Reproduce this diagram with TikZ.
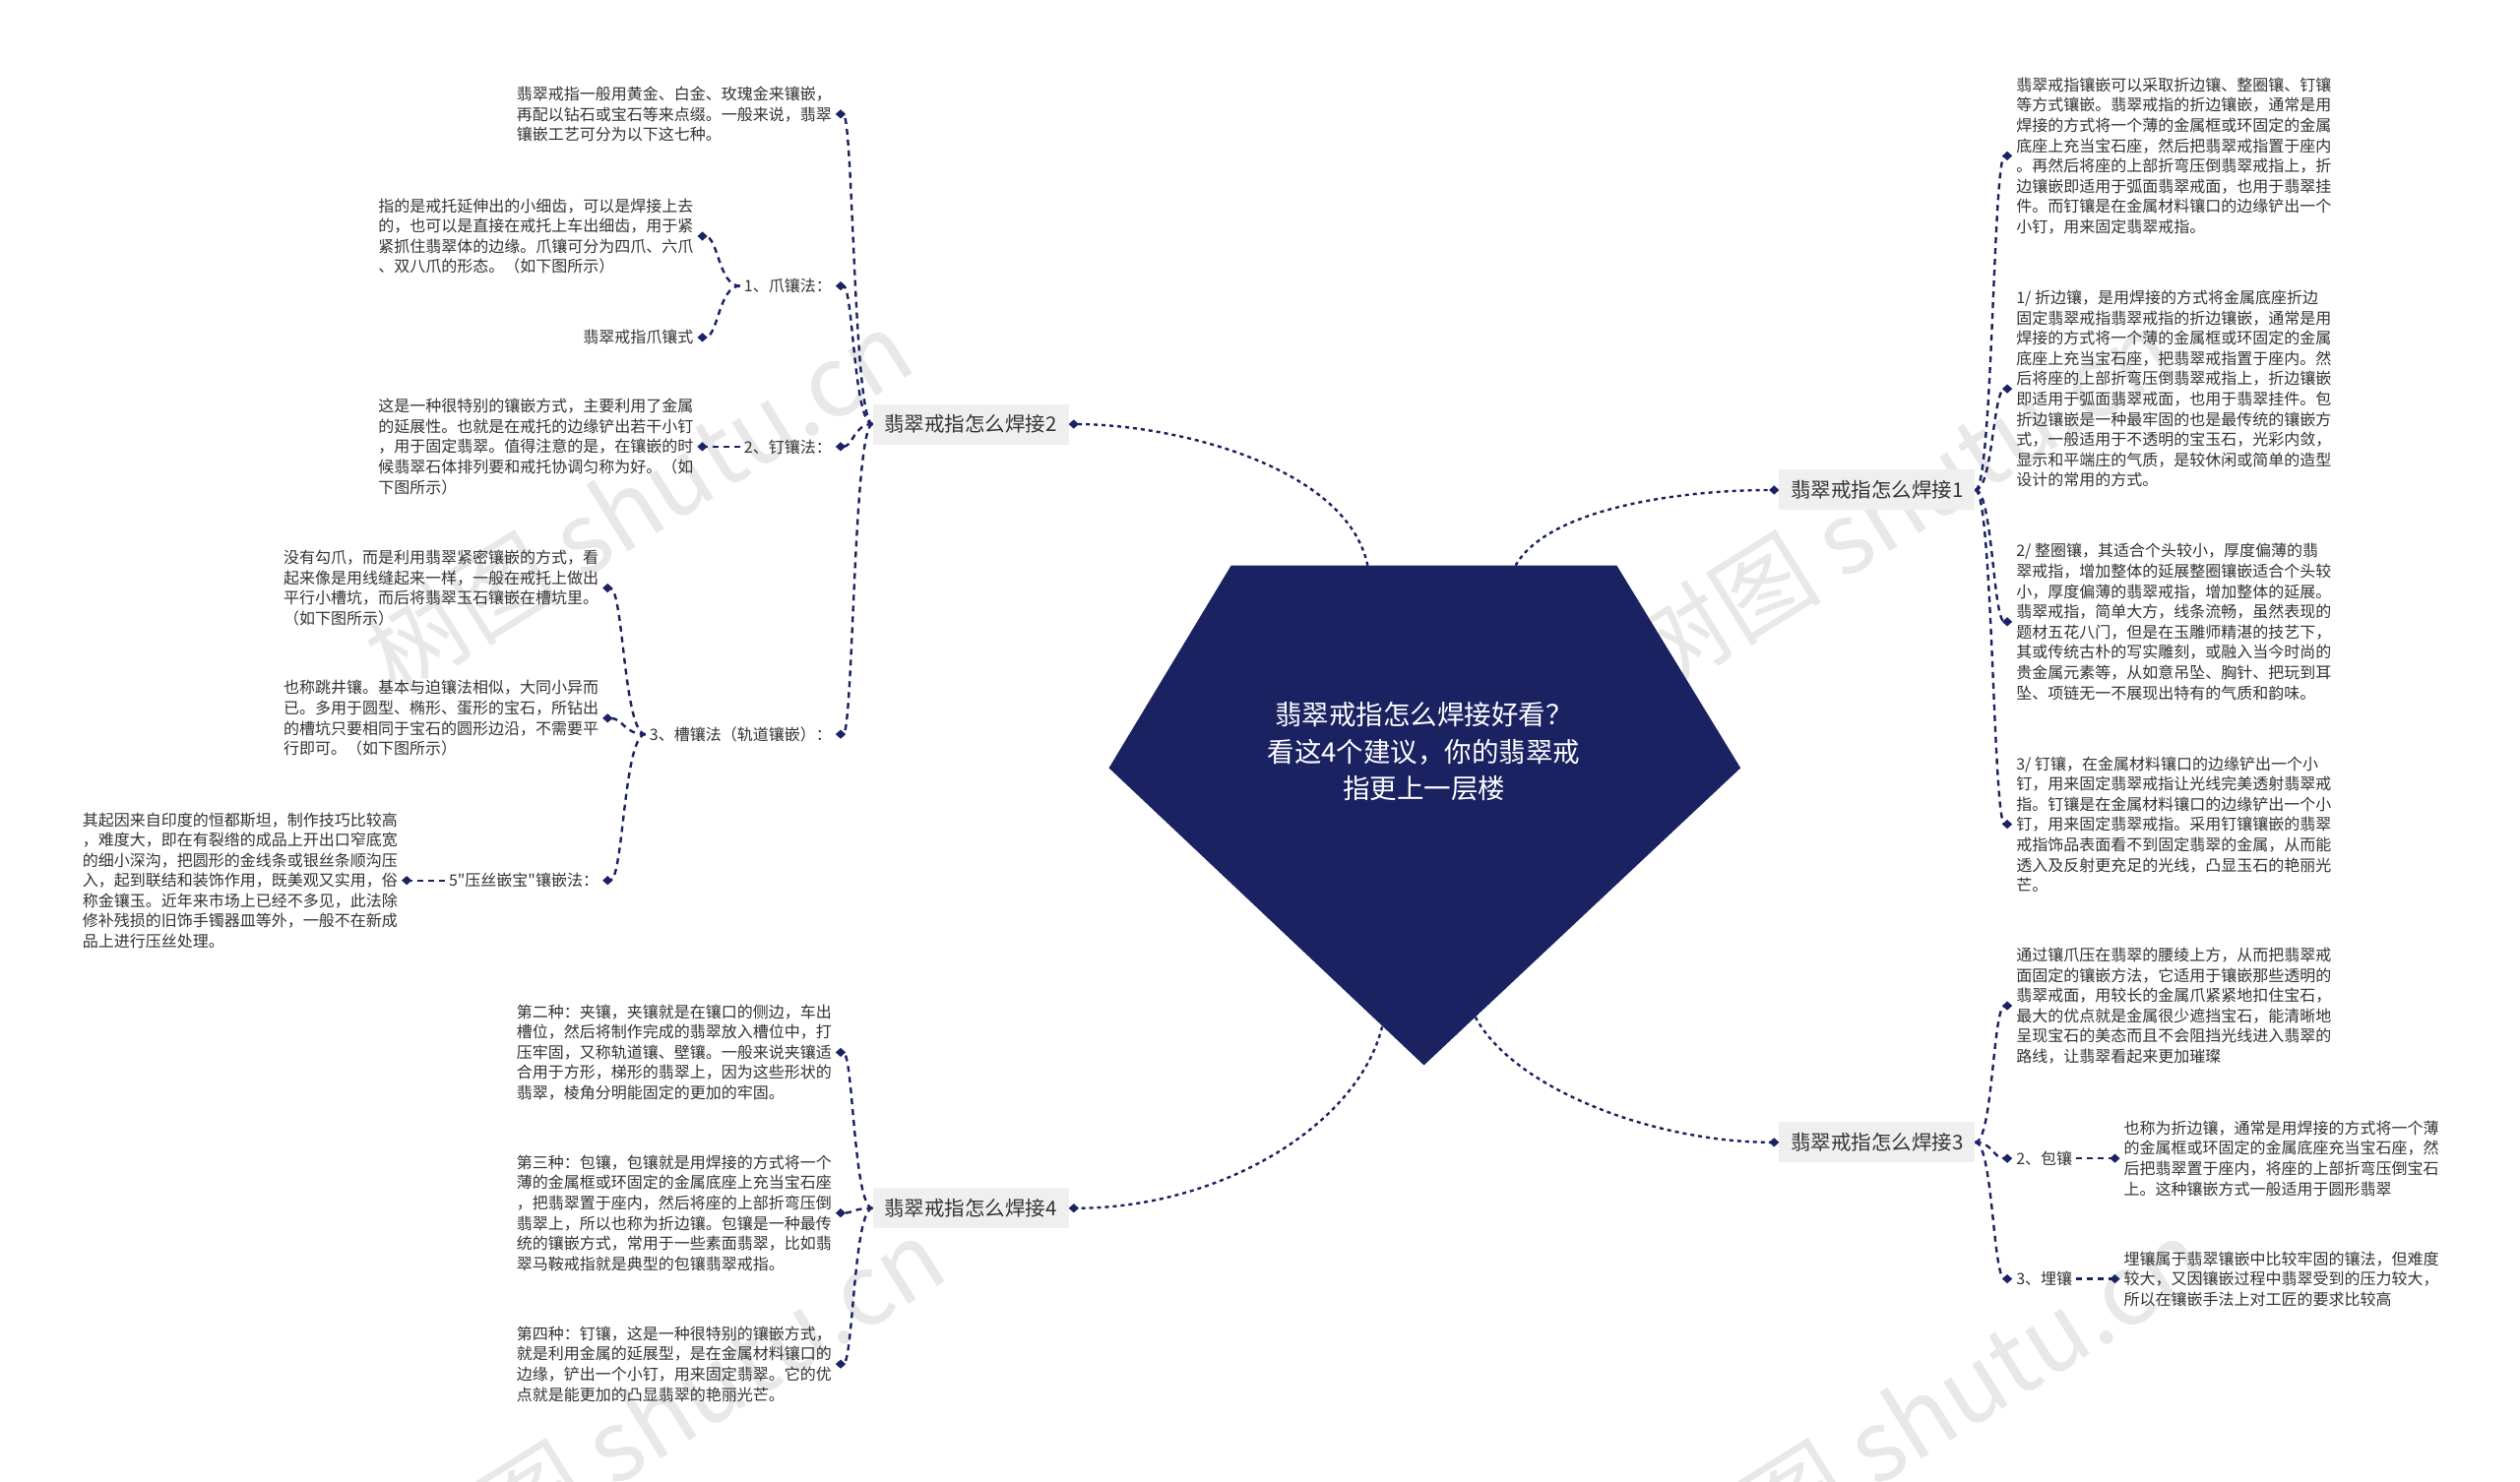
\documentclass[tikz,border=0pt]{standalone}
\usepackage{fontspec}
\setmainfont{Noto Sans CJK SC}
\newfontfamily\zhfont{Noto Sans CJK SC}
\usetikzlibrary{arrows.meta}
\definecolor{navy}{HTML}{1B2262}
\definecolor{txtc}{HTML}{333333}
\definecolor{bfill}{HTML}{EFEFEF}
\definecolor{wmc}{HTML}{E8E8E8}
\newcommand\fBody{\zhfont\fontsize{16pt}{20.6pt}\selectfont}
\newcommand\fBranch{\zhfont\fontsize{20.5pt}{24pt}\selectfont}
\newcommand\fCenter{\zhfont\fontsize{27.5pt}{37.5pt}\selectfont}
\newcommand\fMark{\zhfont\fontsize{100pt}{110pt}\selectfont}
\begin{document}
\begin{tikzpicture}[x=1.6327pt,y=-1.6327pt,
 txtnode/.style={font=\fBody, text=txtc, align=left, inner xsep=4pt, inner ysep=0pt},
 lab/.style={font=\fBody, text=txtc, inner xsep=4pt, inner ysep=2pt},
 brnode/.style={font=\fBranch, text=txtc, fill=bfill, minimum width=199pt, minimum height=41pt, inner sep=0pt},
 conn/.style={draw=navy, line width=2.4pt, dash pattern=on 6pt off 5pt, -{Diamond[length=10pt,width=9pt,line width=0.1pt]}},
 mainconn/.style={conn, dash pattern=on 4pt off 4pt},
 wmark/.style={font=\fMark, text=wmc, rotate=32}]
\fill[white] (0,0) rectangle (1568,922);
\useasboundingbox (0,0) rectangle (1568,922);
% watermarks
\node[wmark] (wm1) at (397,312) {树图 shutu.cn};
\node[wmark] (wm2) at (1182,312) {树图 shutu.cn};
\node[wmark] (wm3) at (417,877) {树图 shutu.cn};
\node[wmark] (wm4) at (1202,877) {树图 shutu.cn};
% center pentagon
\fill[navy] (766,352) -- (1006,352) -- (1083,478) -- (886,663) -- (690,478) -- cycle;
\node[font=\fCenter, text=white, align=center] (ctr) at (886,468) {翡翠戒指怎么焊接好看？\\看这4个建议，你的翡翠戒\\指更上一层楼};
\coordinate (p1) at (943,352);
\coordinate (p2) at (851,352);
\coordinate (p3) at (918,633);
\coordinate (p4) at (860,639);
% branches
\node[brnode] (b2) at (604,264) {翡翠戒指怎么焊接2};
\node[brnode] (b1) at (1168,305) {翡翠戒指怎么焊接1};
\node[brnode] (b3) at (1168,711) {翡翠戒指怎么焊接3};
\node[brnode] (b4) at (604,752) {翡翠戒指怎么焊接4};
% branch 2 children
\node[txtnode, anchor=east] (t1) at (520,71) {翡翠戒指一般用黄金、白金、玫瑰金来镶嵌，\\再配以钻石或宝石等来点缀。一般来说，翡翠\\镶嵌工艺可分为以下这七种。};
\node[lab, anchor=east] (l1) at (520,178) {1、爪镶法：};
\node[lab, anchor=east] (l2) at (520,278) {2、钉镶法：};
\node[lab, anchor=east] (l3) at (520,457) {3、槽镶法（轨道镶嵌）：};
\node[txtnode, anchor=east] (c1a) at (434,147) {指的是戒托延伸出的小细齿，可以是焊接上去\\的，也可以是直接在戒托上车出细齿，用于紧\\紧抓住翡翠体的边缘。爪镶可分为四爪、六爪\\、双八爪的形态。（如下图所示）};
\node[lab, anchor=east] (c1b) at (434,210) {翡翠戒指爪镶式};
\node[txtnode, anchor=east] (c2) at (434,278) {这是一种很特别的镶嵌方式，主要利用了金属\\的延展性。也就是在戒托的边缘铲出若干小钉\\，用于固定翡翠。值得注意的是，在镶嵌的时\\候翡翠石体排列要和戒托协调匀称为好。（如\\下图所示）};
\node[txtnode, anchor=east] (a3) at (375,366) {没有勾爪，而是利用翡翠紧密镶嵌的方式，看\\起来像是用线缝起来一样，一般在戒托上做出\\平行小槽坑，而后将翡翠玉石镶嵌在槽坑里。\\（如下图所示）};
\node[txtnode, anchor=east] (b3t) at (375,447) {也称跳井镶。基本与迫镶法相似，大同小异而\\已。多用于圆型、椭形、蛋形的宝石，所钻出\\的槽坑只要相同于宝石的圆形边沿，不需要平\\行即可。（如下图所示）};
\node[lab, anchor=east] (y5) at (375,548) {5"压丝嵌宝"镶嵌法：};
\node[txtnode, anchor=east] (y5t) at (250,548) {其起因来自印度的恒都斯坦，制作技巧比较高\\，难度大，即在有裂绺的成品上开出口窄底宽\\的细小深沟，把圆形的金线条或银丝条顺沟压\\入，起到联结和装饰作用，既美观又实用，俗\\称金镶玉。近年来市场上已经不多见，此法除\\修补残损的旧饰手镯器皿等外，一般不在新成\\品上进行压丝处理。};
% branch 4 children
\node[txtnode, anchor=east] (f2) at (520,655) {第二种：夹镶，夹镶就是在镶口的侧边，车出\\槽位，然后将制作完成的翡翠放入槽位中，打\\压牢固，又称轨道镶、壁镶。一般来说夹镶适\\合用于方形，梯形的翡翠上，因为这些形状的\\翡翠，棱角分明能固定的更加的牢固。};
\node[txtnode, anchor=east] (f3) at (520,755) {第三种：包镶，包镶就是用焊接的方式将一个\\薄的金属框或环固定的金属底座上充当宝石座\\，把翡翠置于座内，然后将座的上部折弯压倒\\翡翠上，所以也称为折边镶。包镶是一种最传\\统的镶嵌方式，常用于一些素面翡翠，比如翡\\翠马鞍戒指就是典型的包镶翡翠戒指。};
\node[txtnode, anchor=east] (f4) at (520,849) {第四种：钉镶，这是一种很特别的镶嵌方式，\\就是利用金属的延展型，是在金属材料镶口的\\边缘，铲出一个小钉，用来固定翡翠。它的优\\点就是能更加的凸显翡翠的艳丽光芒。};
% branch 1 children
\node[txtnode, anchor=west] (r0) at (1252,97) {翡翠戒指镶嵌可以采取折边镶、整圈镶、钉镶\\等方式镶嵌。翡翠戒指的折边镶嵌，通常是用\\焊接的方式将一个薄的金属框或环固定的金属\\底座上充当宝石座，然后把翡翠戒指置于座内\\。再然后将座的上部折弯压倒翡翠戒指上，折\\边镶嵌即适用于弧面翡翠戒面，也用于翡翠挂\\件。而钉镶是在金属材料镶口的边缘铲出一个\\小钉，用来固定翡翠戒指。};
\node[txtnode, anchor=west] (r1) at (1252,242) {1/ 折边镶，是用焊接的方式将金属底座折边\\固定翡翠戒指翡翠戒指的折边镶嵌，通常是用\\焊接的方式将一个薄的金属框或环固定的金属\\底座上充当宝石座，把翡翠戒指置于座内。然\\后将座的上部折弯压倒翡翠戒指上，折边镶嵌\\即适用于弧面翡翠戒面，也用于翡翠挂件。包\\折边镶嵌是一种最牢固的也是最传统的镶嵌方\\式，一般适用于不透明的宝玉石，光彩内敛，\\显示和平端庄的气质，是较休闲或简单的造型\\设计的常用的方式。};
\node[txtnode, anchor=west] (r2) at (1252,387) {2/ 整圈镶，其适合个头较小，厚度偏薄的翡\\翠戒指，增加整体的延展整圈镶嵌适合个头较\\小，厚度偏薄的翡翠戒指，增加整体的延展。\\翡翠戒指，简单大方，线条流畅，虽然表现的\\题材五花八门，但是在玉雕师精湛的技艺下，\\其或传统古朴的写实雕刻，或融入当今时尚的\\贵金属元素等，从如意吊坠、胸针、把玩到耳\\坠、项链无一不展现出特有的气质和韵味。};
\node[txtnode, anchor=west] (r3) at (1252,513) {3/ 钉镶，在金属材料镶口的边缘铲出一个小\\钉，用来固定翡翠戒指让光线完美透射翡翠戒\\指。钉镶是在金属材料镶口的边缘铲出一个小\\钉，用来固定翡翠戒指。采用钉镶镶嵌的翡翠\\戒指饰品表面看不到固定翡翠的金属，从而能\\透入及反射更充足的光线，凸显玉石的艳丽光\\芒。};
% branch 3 children
\node[txtnode, anchor=west] (g0) at (1252,626) {通过镶爪压在翡翠的腰绫上方，从而把翡翠戒\\面固定的镶嵌方法，它适用于镶嵌那些透明的\\翡翠戒面，用较长的金属爪紧紧地扣住宝石，\\最大的优点就是金属很少遮挡宝石，能清晰地\\呈现宝石的美态而且不会阻挡光线进入翡翠的\\路线，让翡翠看起来更加璀璨};
\node[lab, anchor=west] (g2) at (1252,721) {2、包镶};
\node[lab, anchor=west] (g3) at (1252,796) {3、埋镶};
\node[txtnode, anchor=west] (g2t) at (1319,721) {也称为折边镶，通常是用焊接的方式将一个薄\\的金属框或环固定的金属底座充当宝石座，然\\后把翡翠置于座内，将座的上部折弯压倒宝石\\上。这种镶嵌方式一般适用于圆形翡翠};
\node[txtnode, anchor=west] (g3t) at (1319,796) {埋镶属于翡翠镶嵌中比较牢固的镶法，但难度\\较大，又因镶嵌过程中翡翠受到的压力较大，\\所以在镶嵌手法上对工匠的要求比较高};
% main connectors
\draw[mainconn] (p2) .. controls (838,290) and (730,264) .. (b2.east);
\draw[mainconn] (p1) .. controls (962,318) and (1040,305) .. (b1.west);
\draw[mainconn] (p3) .. controls (942,678) and (1030,711) .. (b3.west);
\draw[mainconn] (p4) .. controls (845,700) and (760,752) .. (b4.east);
% branch 2 connectors
\draw[conn] (b2.west) .. controls (531,264) and (531,71) .. (t1.east);
\draw[conn] (b2.west) .. controls (531,264) and (531,178) .. (l1.east);
\draw[conn] (b2.west) .. controls (531,264) and (531,278) .. (l2.east);
\draw[conn] (b2.west) .. controls (531,264) and (531,457) .. (l3.east);
\draw[conn] (l1.west) .. controls (447,178) and (447,147) .. (c1a.east);
\draw[conn] (l1.west) .. controls (447,178) and (447,210) .. (c1b.east);
\draw[conn] (l2.west) -- (c2.east);
\draw[conn] (l3.west) .. controls (388,457) and (388,366) .. (a3.east);
\draw[conn] (l3.west) .. controls (388,457) and (388,447) .. (b3t.east);
\draw[conn] (l3.west) .. controls (388,457) and (388,548) .. (y5.east);
\draw[conn] (y5.west) -- (y5t.east);
% branch 4 connectors
\draw[conn] (b4.west) .. controls (531,752) and (531,655) .. (f2.east);
\draw[conn] (b4.west) .. controls (531,752) and (531,755) .. (f3.east);
\draw[conn] (b4.west) .. controls (531,752) and (531,849) .. (f4.east);
% branch 1 connectors
\draw[conn] (b1.east) .. controls (1240,305) and (1240,97) .. (r0.west);
\draw[conn] (b1.east) .. controls (1240,305) and (1240,242) .. (r1.west);
\draw[conn] (b1.east) .. controls (1240,305) and (1240,387) .. (r2.west);
\draw[conn] (b1.east) .. controls (1240,305) and (1240,513) .. (r3.west);
% branch 3 connectors
\draw[conn] (b3.east) .. controls (1240,711) and (1240,626) .. (g0.west);
\draw[conn] (b3.east) .. controls (1240,711) and (1240,721) .. (g2.west);
\draw[conn] (b3.east) .. controls (1240,711) and (1240,796) .. (g3.west);
\draw[conn] (g2.east) -- (g2t.west);
\draw[conn] (g3.east) -- (g3t.west);
\end{tikzpicture}
\end{document}
